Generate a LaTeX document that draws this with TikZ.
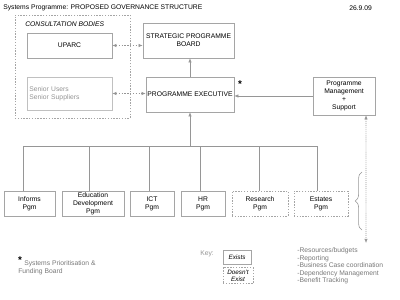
\documentclass[tikz,border=0pt]{standalone}
\usepackage{fontspec}
\setmainfont{Liberation Sans}
\usepackage{xcolor}
\usetikzlibrary{arrows.meta,positioning,calc,decorations.pathreplacing}
\definecolor{edgegray}{RGB}{165,165,165}
\definecolor{linegray}{RGB}{150,150,150}
\definecolor{textgray}{RGB}{120,120,120}
\tikzset{
    plainbox/.style={
        draw=edgegray,
        align=center,
        font=\fontsize{4.8}{5.8}\selectfont,
        inner sep=1pt
    },
    ghostbox/.style={
        plainbox,
        dashed,
        dash pattern=on 1pt off 1pt
    },
    link/.style={
        draw=linegray,
        line width=0.4pt
    },
    arrowlink/.style={
        link,
        -{Latex[length=1mm,width=0.8mm]}
    },
    duallink/.style={
        link,
        dash pattern=on 1pt off 1pt,
        {Latex[length=1mm,width=0.8mm]}-{Latex[length=1mm,width=0.8mm]}
    },
    dotlink/.style={
        link,
        dash pattern=on 0.6pt off 0.8pt,
        {Latex[length=1mm,width=0.8mm]}-{Latex[length=1mm,width=0.8mm]}
    },
    smalltext/.style={
        font=\fontsize{4.8}{5.8}\selectfont,
        inner sep=0pt
    }
}

\begin{document}
\begin{tikzpicture}[x=0.025cm,y=-0.025cm]
        \useasboundingbox (0,0) rectangle (400,300);

        % header
        \node[smalltext, anchor=west] (title) at (3,8) {Systems Programme: PROPOSED GOVERNANCE STRUCTURE};
        \node[smalltext, anchor=west] (date) at (349,8) {26.9.09};

        % consultation bodies
        \node[ghostbox, minimum width=2.875cm, minimum height=2.575cm] (consult) at (72.5,66.5) {};
        \node[smalltext, anchor=west, font=\fontsize{4.8}{5.8}\selectfont\itshape] (consultlbl) at (25,24) {CONSULTATION BODIES};
        \node[plainbox, minimum width=2.125cm, minimum height=0.625cm] (uparc) at (69.5,45.5) {UPARC};
        \node[plainbox, draw=edgegray!70, text=textgray!80, align=left, minimum width=2.125cm, minimum height=0.825cm,
              text width=2.0cm] (senior) at (69.5,93.5) {Senior Users\\Senior Suppliers};

        % governance
        \node[plainbox, minimum width=2.275cm, minimum height=0.875cm] (spb) at (188.5,40.5) {STRATEGIC PROGRAMME\\BOARD};
        \node[plainbox, minimum width=2.2cm, minimum height=0.875cm] (pe) at (190,94.5) {PROGRAMME EXECUTIVE};
        \node[smalltext, font=\fontsize{7}{7}\selectfont\bfseries] (star) at (240,84) {*};
        \node[plainbox, minimum width=1.55cm, minimum height=0.95cm] (pm) at (344,96) {Programme\\Management\\+\\Support};

        % programmes
        \node[plainbox, minimum width=1.275cm, minimum height=0.625cm] (inf) at (29.5,203.5) {Informs\\Pgm};
        \node[plainbox, minimum width=1.55cm, minimum height=0.625cm] (edu) at (93,203.5) {Education\\Development\\Pgm};
        \node[plainbox, minimum width=1.1cm, minimum height=0.625cm] (ict) at (152,203.5) {ICT\\Pgm};
        \node[plainbox, minimum width=1.1cm, minimum height=0.625cm] (hr) at (203,203.5) {HR\\Pgm};
        \node[ghostbox, minimum width=1.4cm, minimum height=0.625cm] (res) at (260,203.5) {Research\\Pgm};
        \node[ghostbox, minimum width=1.35cm, minimum height=0.625cm] (est) at (321,203.5) {Estates\\Pgm};

        % connectors
        \coordinate (bus) at (190,146);
        \coordinate (busL) at (23,146);
        \coordinate (busR) at (317,146);
        \draw[link] (busL) -- (busR);
        \draw[arrowlink] (bus) -- (pe.south);
        \foreach \b/\dx in {inf/-6.5,edu/-4,ict/-3,hr/-3,res/-1,est/-4}
            \draw[link] ([xshift=\dx*0.025cm]\b.north) -- ([xshift=\dx*0.025cm]\b.north |- bus);
        \draw[arrowlink] (pe.north) -- (pe.north |- spb.south);
        \draw[arrowlink] (pm.west) -- (pm.west -| pe.east);
        \draw[duallink] (uparc.east) -- (uparc.east -| spb.west);
        \draw[duallink] (senior.east) -- (senior.east -| pe.west);

        % support scope
        \coordinate (dotend) at (366,243);
        \draw[dotlink] ([xshift=0.55cm]pm.south) -- (dotend);
        \draw[link, decorate, decoration={brace, amplitude=0.17cm}] (362,230) -- (362,172);

        % notes
        \node[smalltext, font=\fontsize{7}{7}\selectfont\bfseries] (star2) at (20,260) {*};
        \node[smalltext, anchor=north west, align=left, text=textgray] (sfb) at (18,260.5) {\hspace{1.5mm}Systems Prioritisation \&\\Funding Board};
        \node[smalltext, text=textgray!80, anchor=west] (key) at (200,254) {Key:};
        \node[plainbox, font=\fontsize{4.5}{5}\selectfont\itshape, minimum width=0.7cm, minimum height=0.35cm] (exists) at (237,257) {Exists};
        \node[ghostbox, font=\fontsize{4.5}{5}\selectfont\itshape, minimum width=0.75cm, minimum height=0.4cm] (noexist) at (238,275.5) {Doesn't\\Exist};
        \node[smalltext, anchor=north west, align=left, text=textgray, font=\fontsize{4.8}{5.3}\selectfont] (tasks) at (297,247.5) {%
            -Resources/budgets\\
            -Reporting\\
            -Business Case coordination\\
            -Dependency Management\\
            -Benefit Tracking};
    \end{tikzpicture}
\end{document}
